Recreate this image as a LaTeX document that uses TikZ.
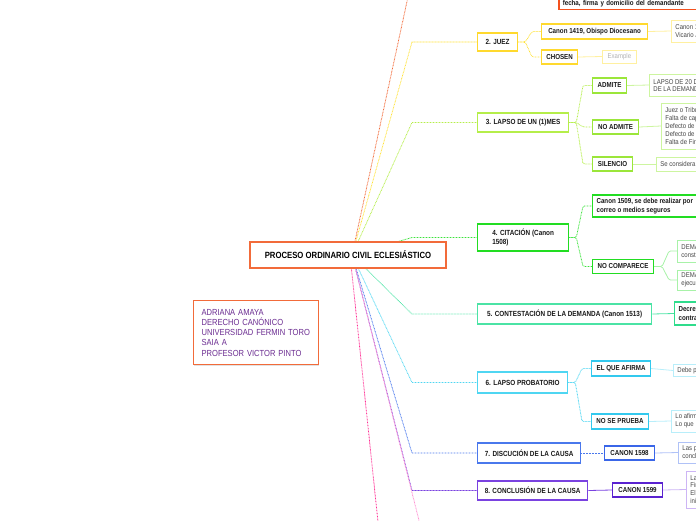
\documentclass[tikz,border=0pt]{standalone}
\usepackage{fontspec}
\setmainfont{Liberation Sans}[FakeStretch=0.86]
\usetikzlibrary{calc,shadows}
\definecolor{rootorange}{HTML}{F26B3A}
\definecolor{demred}{HTML}{F4511E}
\definecolor{yelline}{HTML}{FFE23A}
\definecolor{yelbox}{HTML}{FFD92E}
\definecolor{yelpale}{HTML}{FFF0A0}
\definecolor{limeline}{HTML}{B5EE4A}
\definecolor{limebox}{HTML}{9BE63A}
\definecolor{limepale}{HTML}{CDF5A0}
\definecolor{grnline}{HTML}{3BE23B}
\definecolor{grnbox}{HTML}{22DD22}
\definecolor{grnpale}{HTML}{A8F2A8}
\definecolor{tealline}{HTML}{4BE3A5}
\definecolor{tealbox}{HTML}{2FDC8C}
\definecolor{cyanline}{HTML}{4FD6F2}
\definecolor{cyanbox}{HTML}{33C9EE}
\definecolor{cyanpale}{HTML}{B8EEFA}
\definecolor{blueline}{HTML}{4A78EC}
\definecolor{bluebox}{HTML}{3A66E8}
\definecolor{bluepale}{HTML}{B0C2F7}
\definecolor{purline}{HTML}{7A42E0}
\definecolor{purbox}{HTML}{5A22D0}
\definecolor{purpale}{HTML}{CDB5F5}
\definecolor{pinkdeep}{HTML}{FF2E93}
\definecolor{pinklight}{HTML}{FF8AD0}
\definecolor{infotext}{HTML}{6B2C91}
\pgfdeclarelayer{bg}
\pgfsetlayers{bg,main}
\tikzset{
  softshadow/.style={drop shadow={shadow xshift=0.6pt, shadow yshift=-0.9pt, opacity=0.25, fill=black!45}},
  rootbox/.style={draw=rootorange, line width=1.5pt, fill=white, softshadow,
    font=\bfseries\fontsize{9}{10.5}\selectfont, inner sep=2pt},
  infobox/.style={draw=rootorange, line width=1.3pt, fill=white, softshadow, text=infotext,
    font=\fontsize{8.8}{10.3}\selectfont, align=left, inner xsep=8pt, inner ysep=2pt},
  lvone/.style={draw=#1, line width=1.3pt, fill=white, softshadow, text=black!90,
    font=\bfseries\fontsize{7.4}{8.6}\selectfont, anchor=west, align=left, inner xsep=4pt, inner ysep=1pt},
  lvtwo/.style={draw=#1, line width=1.1pt, fill=white, text=black!90,
    font=\bfseries\fontsize{7.2}{8.3}\selectfont, anchor=west, align=left, inner xsep=4pt, inner ysep=1pt},
  lvthree/.style={draw=#1, line width=0.8pt, fill=white, text=black!72,
    font=\fontsize{7}{7.8}\selectfont, anchor=west, align=left, inner xsep=4pt, inner ysep=1pt},
  rootlink/.style={draw=#1, line width=0.8pt, dash pattern=on 0.8pt off 0.7pt},
  branch/.style={draw=#1, line width=0.8pt, dash pattern=on 0.8pt off 0.7pt, rounded corners=1.5pt},
  leaf/.style={draw=#1, line width=0.8pt, rounded corners=1.5pt},
}

\begin{document}
\begin{tikzpicture}[x=1pt, y=-1pt]
  \useasboundingbox (0,0) rectangle (696,520);
  \clip (0,0) rectangle (696,520);

  % centre and author
  \node[rootbox, minimum width=196, minimum height=26] (root) at (348,255)
    {PROCESO ORDINARIO CIVIL ECLESIÁSTICO};
  \node[infobox, anchor=north west, text width=109, minimum height=64] (autor) at (193,300)
    {ADRIANA AMAYA\\DERECHO CANÓNICO\\UNIVERSIDAD FERMIN TORO\\SAIA A\\PROFESOR VICTOR PINTO};

  % main steps
  \node[lvone=yelbox, minimum width=40, minimum height=18] (juez) at (477,42) {2. JUEZ};
  \node[lvone=limeline, minimum width=91, minimum height=19] (lapso) at (477,122.5) {3. LAPSO DE UN (1)MES};
  \node[lvone=grnbox, minimum width=91, minimum height=27] (cita) at (477,237.5) {4. CITACIÓN (Canon\\1508)};
  \node[lvone=tealline, minimum width=174, minimum height=20] (contes) at (477,314) {5. CONTESTACIÓN DE LA DEMANDA (Canon 1513)};
  \node[lvone=cyanline, minimum width=90, minimum height=21] (prob) at (477,382.5) {6. LAPSO PROBATORIO};
  \node[lvone=blueline, minimum width=103, minimum height=20] (disc) at (477,453) {7. DISCUCIÓN DE LA CAUSA};
  \node[lvone=purline, minimum width=110, minimum height=19] (concl) at (477,490.5) {8. CONCLUSIÓN DE LA CAUSA};

  % second level
  \node[lvtwo=demred, line width=1.5pt, anchor=south west, text height=30pt, text depth=3pt,
    text width=160] (demanda) at (558,10) {fecha, firma y domicilio del demandante};
  \node[lvtwo=yelbox, minimum width=106, minimum height=15] (obispo) at (541,31.5) {Canon 1419, Obispo Diocesano};
  \node[lvtwo=yelbox, minimum width=36, minimum height=14] (chosen) at (541,57) {CHOSEN};
  \node[lvtwo=limebox, minimum width=34, minimum height=15] (admite) at (592,85.5) {ADMITE};
  \node[lvtwo=limebox, minimum width=46, minimum height=14] (noadm) at (592,127) {NO ADMITE};
  \node[lvtwo=limebox, minimum width=40, minimum height=14] (silen) at (592,164) {SILENCIO};
  \node[lvtwo=grnbox, minimum height=22] (c1509) at (592,206) {Canon 1509, se debe realizar por\\correo o medios seguros};
  \node[lvtwo=grnbox, minimum width=61, minimum height=14] (nocomp) at (592,266.5) {NO COMPARECE};
  \node[lvtwo=tealbox, minimum height=23] (decreto) at (674,313.5) {Decreto\\contrademanda};
  \node[lvtwo=cyanbox, minimum width=59, minimum height=15] (afirma) at (591,368.5) {EL QUE AFIRMA};
  \node[lvtwo=cyanbox, minimum width=57, minimum height=15] (noprueba) at (591,421.5) {NO SE PRUEBA};
  \node[lvtwo=bluebox, minimum width=50, minimum height=14] (c1598) at (604,453) {CANON 1598};
  \node[lvtwo=purbox, minimum width=50, minimum height=14] (c1599) at (612,490) {CANON 1599};

  % third level
  \node[lvthree=yelpale, minimum height=22] (vicario) at (671,31) {Canon 1420\\Vicario Judicial};
  \node[lvthree=yelpale, text=black!30, minimum width=34, minimum height=13] (example) at (602,56.5) {Example};
  \node[lvthree=limepale, minimum height=22] (plazo) at (649,85) {LAPSO DE 20 DÍAS\\DE LA DEMANDA};
  \node[lvthree=limepale, minimum height=46] (causales) at (661,126)
    {Juez o Tribunal\\Falta de capacidad\\Defecto de forma\\Defecto de fondo\\Falta de Firma};
  \node[lvthree=limepale, minimum height=14] (seconsid) at (656,164) {Se considera admitida};
  \node[lvthree=grnpale, minimum height=22] (dem1) at (677,251) {DEMANDADO\\constituido};
  \node[lvthree=grnpale, minimum height=20] (dem2) at (677,280) {DEMANDADO\\ejecución};
  \node[lvthree=cyanpale, minimum height=12] (debe) at (673,370.5) {Debe probar};
  \node[lvthree=cyanpale, minimum height=22] (loafirma) at (671,421) {Lo afirmado\\Lo que};
  \node[lvthree=bluepale, minimum height=21] (lascond) at (678,452.5) {Las partes\\conclusiones};
  \node[lvthree=purpale, minimum height=37] (fin) at (686,489.5) {La causa\\Fin\\El juez\\inicia};

  \coordinate (bend) at (412,0);
  \coordinate (top) at (416,-40);
  \coordinate (down1) at (382,560);
  \coordinate (down2) at (429,560);

  \begin{pgfonlayer}{bg}
    % from the centre
    \draw[rootlink=rootorange] ($(root.center)+(4,0)$) -- (top);
    \draw[rootlink=yelline] ($(root.center)+(4,0)$) -- (juez.west -| bend) -- (juez.west);
    \draw[rootlink=limeline] ($(root.center)+(4,0)$) -- (lapso.west -| bend) -- (lapso.west);
    \draw[rootlink=grnline] ($(root.center)+(4,0)$) -- (cita.west -| bend) -- (cita.west);
    \draw[rootlink=tealline] ($(root.center)+(4,0)$) -- (contes.west -| bend) -- (contes.west);
    \draw[rootlink=cyanline] ($(root.center)+(4,0)$) -- (prob.west -| bend) -- (prob.west);
    \draw[rootlink=blueline] ($(root.center)+(4,0)$) -- (disc.west -| bend) -- (disc.west);
    \draw[rootlink=purline] ($(root.center)+(4,0)$) -- (concl.west -| bend) -- (concl.west);
    \draw[rootlink=pinkdeep] ($(root.center)+(2,0)$) -- (down1);
    \draw[rootlink=pinklight] ($(root.center)+(4,0)$) -- (down2);

    % steps to second level
    \foreach \kid in {obispo,chosen}
      \draw[branch=yelline] (juez.east) -- ++(7,0) -- ([xshift=-9pt]\kid.west) -- (\kid.west);
    \foreach \kid in {admite,noadm,silen}
      \draw[branch=limeline] (lapso.east) -- ++(7,0) -- ([xshift=-9pt]\kid.west) -- (\kid.west);
    \foreach \kid in {c1509,nocomp}
      \draw[branch=grnline] (cita.east) -- ++(7,0) -- ([xshift=-9pt]\kid.west) -- (\kid.west);
    \foreach \kid in {afirma,noprueba}
      \draw[branch=cyanline] (prob.east) -- ++(7,0) -- ([xshift=-9pt]\kid.west) -- (\kid.west);
    \draw[leaf=tealline] (contes.east) -- (decreto.west);
    \draw[branch=blueline] (disc.east) -- (c1598.west);
    \draw[leaf=purline] (concl.east) -- (c1599.west);

    % second to third level
    \draw[leaf=yelpale] (obispo.east) -- (vicario.west);
    \draw[leaf=yelpale] (chosen.east) -- (example.west);
    \draw[leaf=limepale] (admite.east) -- (plazo.west);
    \draw[leaf=limepale] (noadm.east) -- (causales.west);
    \draw[leaf=limepale] (silen.east) -- (seconsid.west);
    \foreach \kid in {dem1,dem2}
      \draw[leaf=grnpale] (nocomp.east) -- ++(8,0) -- ([xshift=-8pt]\kid.west) -- (\kid.west);
    \draw[leaf=cyanpale] (afirma.east) -- (debe.west);
    \draw[leaf=cyanpale] (noprueba.east) -- (loafirma.west);
    \draw[leaf=bluepale] (c1598.east) -- (lascond.west);
    \draw[leaf=purpale] (c1599.east) -- (fin.west);
  \end{pgfonlayer}
\end{tikzpicture}
\end{document}
